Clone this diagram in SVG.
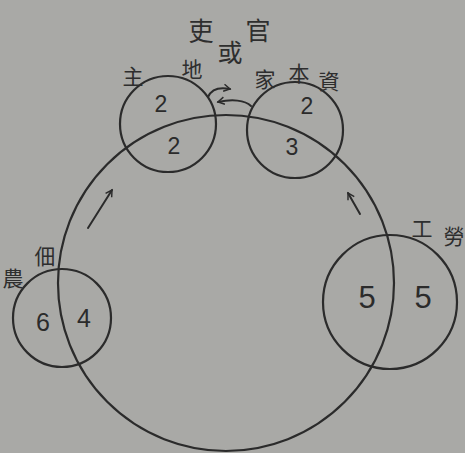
<svg xmlns="http://www.w3.org/2000/svg" width="465" height="453" viewBox="0 0 465 453">
  <defs>
    <style>
      .ring { fill: none; stroke: #2b2b2b; stroke-width: 2.2; }
      .cjk { font-family: "Noto Sans CJK TC", "Noto Sans CJK SC", sans-serif; fill: #2e2e2e; text-anchor: middle; dominant-baseline: central; }
      .num { font-family: "Liberation Sans", "DejaVu Sans", sans-serif; fill: #2b2b2b; text-anchor: middle; dominant-baseline: central; }
      .arrow { fill: none; stroke: #2b2b2b; stroke-width: 2; stroke-linecap: round; stroke-linejoin: round; }
    </style>
    <marker id="head" viewBox="0 0 10 10" refX="8" refY="5" markerWidth="9" markerHeight="9" markerUnits="userSpaceOnUse" orient="auto">
      <path d="M1,1 L8,5 L1,9" fill="none" stroke="#2b2b2b" stroke-width="1.6"/>
    </marker>
  </defs>
  <rect width="465" height="453" fill="#a9a9a6"/>

  <g id="officials">
    <text class="cjk" x="201" y="29" font-size="25">吏</text>
    <text class="cjk" x="230" y="51" font-size="25">或</text>
    <text class="cjk" x="258" y="29" font-size="25">官</text>
  </g>

  <g id="cycle">
    <circle class="ring" cx="226" cy="283" r="168"/>
  </g>

  <g id="landlord">
    <circle class="ring" cx="168" cy="124" r="48"/>
    <text class="cjk" x="133" y="75" font-size="21">主</text>
    <text class="cjk" x="192" y="68" font-size="21">地</text>
    <text class="num" x="161" y="104" font-size="23">2</text>
    <text class="num" x="174" y="146" font-size="23">2</text>
  </g>

  <g id="capitalist">
    <circle class="ring" cx="295" cy="130" r="48"/>
    <text class="cjk" x="265" y="78" font-size="21">家</text>
    <text class="cjk" x="299" y="72" font-size="21">本</text>
    <text class="cjk" x="329" y="80" font-size="21">資</text>
    <text class="num" x="307" y="106" font-size="23">2</text>
    <text class="num" x="292" y="147" font-size="23">3</text>
  </g>

  <g id="tenant-farmer">
    <circle class="ring" cx="62" cy="318" r="49"/>
    <text class="cjk" x="45" y="255" font-size="21">佃</text>
    <text class="cjk" x="13" y="277" font-size="21">農</text>
    <text class="num" x="43" y="322" font-size="25">6</text>
    <text class="num" x="84" y="318" font-size="25">4</text>
  </g>

  <g id="labourer">
    <circle class="ring" cx="390" cy="302" r="67"/>
    <text class="cjk" x="422" y="227" font-size="21">工</text>
    <text class="cjk" x="454" y="235" font-size="21">勞</text>
    <text class="num" x="367" y="297" font-size="31">5</text>
    <text class="num" x="423" y="297" font-size="31">5</text>
  </g>

  <g id="connectors">
    <path class="arrow" d="M208,97 C212,88 220,87 230,89" marker-end="url(#head)"/>
    <path class="arrow" d="M251,106 C245,100 232,99 218,102" marker-end="url(#head)"/>
    <path class="arrow" d="M88,228 L112,190" marker-end="url(#head)"/>
    <path class="arrow" d="M360,214 L348,193" marker-end="url(#head)"/>
  </g>
</svg>
